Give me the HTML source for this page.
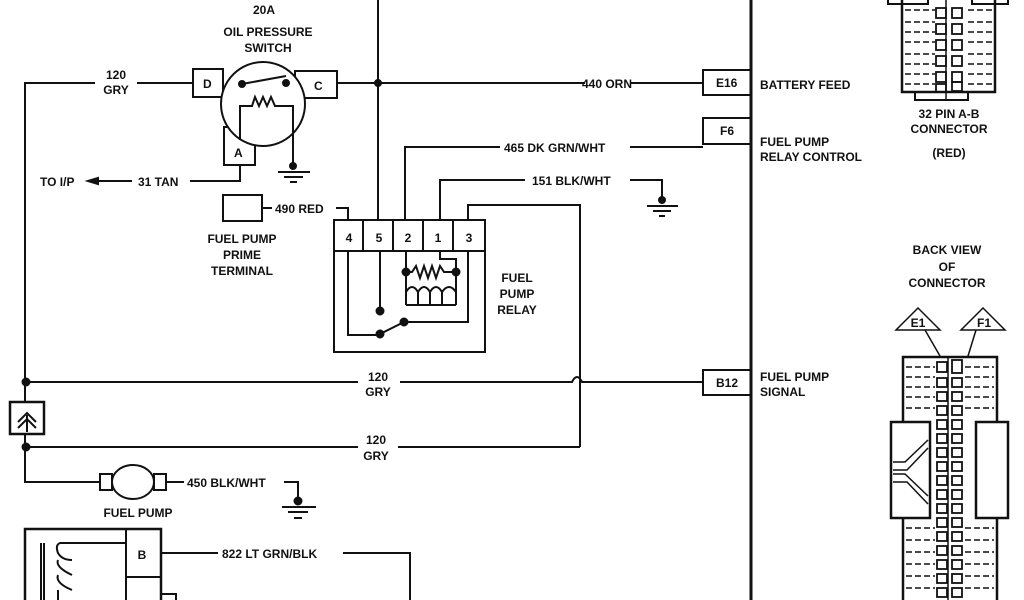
<!DOCTYPE html>
<html><head><style>
html,body{margin:0;padding:0;background:#fff;width:1024px;height:600px;overflow:hidden}
svg text{font-family:"Liberation Sans",Arial,sans-serif;font-weight:bold;font-size:12px;fill:#111}
</style></head><body>
<svg width="1024" height="600" viewBox="0 0 1024 600" xmlns="http://www.w3.org/2000/svg" stroke="#111" fill="none" stroke-width="2">
<line x1="751" y1="0" x2="751" y2="600" stroke-width="3"/>
<rect x="703" y="70" width="48" height="25"/><text x="716" y="87" stroke="none" font-size="11">E16</text>
<rect x="703" y="118" width="48" height="26"/><text x="720" y="135" stroke="none" font-size="11">F6</text>
<rect x="703" y="370" width="48" height="25"/><text x="716" y="387" stroke="none" font-size="11">B12</text>
<text x="760" y="89" stroke="none">BATTERY FEED</text>
<text x="760" y="146" stroke="none">FUEL PUMP</text>
<text x="760" y="161" stroke="none">RELAY CONTROL</text>
<text x="760" y="381" stroke="none">FUEL PUMP</text>
<text x="760" y="396" stroke="none">SIGNAL</text>

<line x1="378" y1="0" x2="378" y2="220"/>
<circle cx="378" cy="83" r="3" fill="#111"/>
<polyline points="95,83 25,83 25,482 100,482"/>
<line x1="137" y1="83" x2="193" y2="83"/>
<text x="116" y="79" stroke="none" text-anchor="middle">120</text>
<text x="116" y="94" stroke="none" text-anchor="middle">GRY</text>
<text x="264" y="14" stroke="none" text-anchor="middle">20A</text>
<text x="268" y="36" stroke="none" text-anchor="middle">OIL PRESSURE</text>
<text x="268" y="52" stroke="none" text-anchor="middle">SWITCH</text>
<rect x="193" y="69" width="30" height="28" fill="#fff"/><text x="203" y="88" stroke="none">D</text>
<rect x="295" y="71" width="42" height="27" fill="#fff"/><text x="314" y="90" stroke="none">C</text>
<rect x="224" y="127" width="31" height="38" fill="#fff"/><text x="234" y="157" stroke="none">A</text>
<circle cx="263" cy="104" r="42" fill="#fff"/>
<line x1="242" y1="84" x2="286" y2="76"/>
<circle cx="242" cy="84" r="3" fill="#111"/><circle cx="286" cy="83" r="3" fill="#111"/>
<polyline points="240,140 240,106 252,106 255,97 259,106 263,97 267,106 271,97 275,106 281,106 293,106 293,165"/>
<line x1="337" y1="83" x2="703" y2="83"/>
<rect x="585" y="76" width="45" height="14" fill="#fff" stroke="none"/>
<text x="607" y="88" stroke="none" text-anchor="middle">440 ORN</text>
<circle cx="293" cy="166" r="3" fill="#111"/>
<line x1="278" y1="172" x2="310" y2="172"/><line x1="284" y1="177" x2="303" y2="177"/><line x1="290" y1="182" x2="297" y2="182"/>
<polyline points="240,165 240,181 190,181"/>
<text x="138" y="186" stroke="none">31 TAN</text>
<line x1="98" y1="181" x2="132" y2="181"/>
<polygon points="88,181 98,178 98,184" fill="#111"/>
<text x="40" y="186" stroke="none">TO I/P</text>
<rect x="223" y="195" width="39" height="26"/>
<line x1="262" y1="208" x2="272" y2="208"/>
<text x="275" y="213" stroke="none">490 RED</text>
<polyline points="336,208 348,208 348,220"/>
<text x="242" y="243" stroke="none" text-anchor="middle">FUEL PUMP</text>
<text x="242" y="259" stroke="none" text-anchor="middle">PRIME</text>
<text x="242" y="275" stroke="none" text-anchor="middle">TERMINAL</text>
<rect x="334" y="220" width="151" height="132"/>
<line x1="334" y1="251" x2="485" y2="251"/>
<line x1="363" y1="220" x2="363" y2="251"/><line x1="393" y1="220" x2="393" y2="251"/><line x1="423" y1="220" x2="423" y2="251"/><line x1="453" y1="220" x2="453" y2="251"/>
<text x="349" y="242" stroke="none" text-anchor="middle">4</text>
<text x="379" y="242" stroke="none" text-anchor="middle">5</text>
<text x="408" y="242" stroke="none" text-anchor="middle">2</text>
<text x="438" y="242" stroke="none" text-anchor="middle">1</text>
<text x="469" y="242" stroke="none" text-anchor="middle">3</text>
<polyline points="348,251 348,335 376,335"/>
<line x1="380" y1="251" x2="380" y2="310"/><circle cx="380" cy="311" r="3.5" fill="#111"/>
<line x1="380" y1="334" x2="404" y2="322"/>
<circle cx="380" cy="334" r="3.5" fill="#111"/><circle cx="404" cy="322" r="3.5" fill="#111"/>
<polyline points="404,322 468,322 468,251"/>
<polyline points="406,251 406,272 406,305"/>
<circle cx="406" cy="272" r="3.5" fill="#111"/><circle cx="456" cy="272" r="3.5" fill="#111"/>
<polyline points="406,272 412,272 416,266 420,278 424,266 428,278 432,266 436,278 440,266 444,272 456,272"/>
<polyline points="440,251 440,259 456,259 456,305"/>
<path d="M406,305 L406,292 Q412,282 418,292 L418,305 M418,292 Q424,282 430,292 L430,305 M430,292 Q436,282 442,292 L442,305 M442,292 Q449,282 456,292"/>
<line x1="406" y1="305" x2="456" y2="305"/>
<text x="517" y="282" stroke="none" text-anchor="middle">FUEL</text>
<text x="517" y="298" stroke="none" text-anchor="middle">PUMP</text>
<text x="517" y="314" stroke="none" text-anchor="middle">RELAY</text>
<polyline points="405,220 405,147 500,147"/>
<text x="504" y="152" stroke="none">465 DK GRN/WHT</text>
<line x1="630" y1="147" x2="703" y2="147"/>
<polyline points="440,220 440,180 525,180"/>
<text x="532" y="185" stroke="none">151 BLK/WHT</text>
<polyline points="630,180 662,180 662,200"/>
<circle cx="662" cy="200" r="3" fill="#111"/>
<line x1="647" y1="206" x2="678" y2="206"/><line x1="653" y1="211" x2="671" y2="211"/><line x1="659" y1="216" x2="665" y2="216"/>
<polyline points="468,220 468,205 580,205 580,447"/>
<path d="M25,382 L358,382 M400,382 L572,382 Q577,372 582,382 L703,382"/>
<circle cx="26" cy="382" r="3.5" fill="#111"/>
<text x="378" y="381" stroke="none" text-anchor="middle">120</text>
<text x="378" y="396" stroke="none" text-anchor="middle">GRY</text>
<path d="M25,447 L358,447 M398,447 L580,447"/>
<circle cx="26" cy="447" r="3.5" fill="#111"/>
<text x="376" y="444" stroke="none" text-anchor="middle">120</text>
<text x="376" y="460" stroke="none" text-anchor="middle">GRY</text>
<rect x="10" y="402" width="34" height="32" fill="#fff" stroke-width="2.5"/>
<path d="M18,422 L27,413 L36,422 M18,428 L27,419 L36,428 M27,415 L27,432"/>
<rect x="100" y="474" width="12" height="16"/><rect x="154" y="474" width="12" height="16"/>
<ellipse cx="133" cy="482" rx="21" ry="17" fill="#fff"/>
<line x1="166" y1="482" x2="184" y2="482"/>
<text x="187" y="487" stroke="none">450 BLK/WHT</text>
<polyline points="284,482 298,482 298,500"/>
<circle cx="298" cy="501" r="3.5" fill="#111"/>
<line x1="282" y1="507" x2="316" y2="507"/><line x1="288" y1="512" x2="308" y2="512"/><line x1="294" y1="518" x2="302" y2="518"/>
<text x="138" y="517" stroke="none" text-anchor="middle">FUEL PUMP</text>
<polyline points="25,600 25,529 161,529 161,600" stroke-width="2.5"/>
<line x1="126" y1="529" x2="126" y2="600"/>
<line x1="126" y1="577" x2="161" y2="577"/>
<text x="142" y="559" stroke="none" text-anchor="middle">B</text>
<line x1="41" y1="543" x2="41" y2="600"/><line x1="44" y1="543" x2="44" y2="600"/>
<path d="M125,543 L60,543 Q55,545 58,553 Q62,560 72,560 M58,560 Q55,567 72,575 M58,575 Q55,583 72,590 M58,590 L58,600"/>
<line x1="161" y1="553" x2="218" y2="553"/>
<text x="222" y="558" stroke="none">822 LT GRN/BLK</text>
<polyline points="343,553 410,553 410,600"/>
<rect x="161" y="594" width="15" height="10"/>
<path d="M902,0 L902,92 L995,92 L995,0" stroke-width="2.5"/>
<rect x="888" y="-4" width="40" height="8"/><rect x="972" y="-4" width="36" height="8"/>
<line x1="946" y1="0" x2="946" y2="100" stroke-width="1.5"/>
<path d="M915,92 L915,100 L968,100 L968,92"/>
<g stroke-width="1.5" stroke-dasharray="6,3">
<line x1="905" y1="10" x2="935" y2="10"/><line x1="905" y1="22" x2="935" y2="22"/><line x1="905" y1="32" x2="935" y2="32"/><line x1="905" y1="42" x2="935" y2="42"/><line x1="905" y1="54" x2="935" y2="54"/><line x1="905" y1="64" x2="935" y2="64"/><line x1="905" y1="74" x2="935" y2="74"/><line x1="905" y1="84" x2="935" y2="84"/>
<line x1="968" y1="10" x2="993" y2="10"/><line x1="968" y1="22" x2="993" y2="22"/><line x1="968" y1="32" x2="993" y2="32"/><line x1="968" y1="42" x2="993" y2="42"/><line x1="968" y1="54" x2="993" y2="54"/><line x1="968" y1="64" x2="993" y2="64"/><line x1="968" y1="74" x2="993" y2="74"/><line x1="968" y1="84" x2="993" y2="84"/>
</g>
<g stroke-width="1.8">
<rect x="936" y="8" width="10" height="10"/><rect x="952" y="8" width="10" height="10"/>
<rect x="936" y="24" width="10" height="10"/><rect x="952" y="24" width="10" height="10"/>
<rect x="936" y="40" width="10" height="10"/><rect x="952" y="40" width="10" height="10"/>
<rect x="936" y="56" width="10" height="10"/><rect x="952" y="56" width="10" height="10"/>
<rect x="936" y="72" width="10" height="10"/><rect x="952" y="72" width="10" height="10"/>
<rect x="936" y="84" width="10" height="8"/><rect x="952" y="82" width="10" height="9"/>
</g>
<text x="949" y="118" stroke="none" text-anchor="middle">32 PIN A-B</text>
<text x="949" y="133" stroke="none" text-anchor="middle">CONNECTOR</text>
<text x="949" y="157" stroke="none" text-anchor="middle">(RED)</text>
<text x="947" y="254" stroke="none" text-anchor="middle">BACK VIEW</text>
<text x="947" y="271" stroke="none" text-anchor="middle">OF</text>
<text x="947" y="287" stroke="none" text-anchor="middle">CONNECTOR</text>
<polygon points="918,308 896,330 940,330" stroke-width="1.5"/>
<text x="918" y="327" stroke="none" text-anchor="middle" font-size="11">E1</text>
<polygon points="983,308 961,330 1005,330" stroke-width="1.5"/>
<text x="984" y="327" stroke="none" text-anchor="middle" font-size="11">F1</text>
<line x1="925" y1="330" x2="940" y2="356" stroke-width="1.5"/>
<line x1="976" y1="330" x2="968" y2="356" stroke-width="1.5"/>
<path d="M903,600 L903,357 L997,357 L997,600" stroke-width="2.5"/>
<rect x="891" y="422" width="39" height="96" fill="#fff" stroke-width="2.5"/>
<rect x="976" y="422" width="32" height="96" fill="#fff" stroke-width="2.5"/>
<path d="M893,462 L905,462 L928,440 M893,470 L907,470 L928,448 M893,474 L905,474 L928,496 M893,482 L907,482 L928,504" stroke-width="1.5"/>
<line x1="948" y1="357" x2="948" y2="600" stroke-width="1.5"/>
<g stroke-width="1.5" stroke-dasharray="6,3">
<line x1="906" y1="367" x2="935" y2="367"/><line x1="906" y1="377" x2="935" y2="377"/><line x1="906" y1="387" x2="935" y2="387"/><line x1="906" y1="397" x2="935" y2="397"/><line x1="906" y1="408" x2="935" y2="408"/>
<line x1="965" y1="367" x2="994" y2="367"/><line x1="965" y1="377" x2="994" y2="377"/><line x1="965" y1="387" x2="994" y2="387"/><line x1="965" y1="397" x2="994" y2="397"/><line x1="965" y1="408" x2="994" y2="408"/>
<line x1="906" y1="528" x2="935" y2="528"/><line x1="906" y1="540" x2="935" y2="540"/><line x1="906" y1="552" x2="935" y2="552"/><line x1="906" y1="564" x2="935" y2="564"/><line x1="906" y1="576" x2="935" y2="576"/><line x1="906" y1="588" x2="935" y2="588"/>
<line x1="965" y1="528" x2="994" y2="528"/><line x1="965" y1="540" x2="994" y2="540"/><line x1="965" y1="552" x2="994" y2="552"/><line x1="965" y1="564" x2="994" y2="564"/><line x1="965" y1="576" x2="994" y2="576"/><line x1="965" y1="588" x2="994" y2="588"/>
</g>
<g stroke-width="1.8">
<rect x="937" y="362" width="10" height="10"/><rect x="952" y="360" width="10" height="13"/>
<rect x="937" y="378" width="10" height="9"/><rect x="952" y="378" width="10" height="9"/>
<rect x="937" y="392" width="10" height="9"/><rect x="952" y="392" width="10" height="9"/>
<rect x="937" y="406" width="10" height="9"/><rect x="952" y="406" width="10" height="9"/>
<rect x="937" y="420" width="10" height="9"/><rect x="952" y="420" width="10" height="9"/>
<rect x="937" y="434" width="10" height="9"/><rect x="952" y="434" width="10" height="9"/>
<rect x="937" y="448" width="10" height="9"/><rect x="952" y="448" width="10" height="9"/>
<rect x="937" y="462" width="10" height="9"/><rect x="952" y="462" width="10" height="9"/>
<rect x="937" y="476" width="10" height="9"/><rect x="952" y="476" width="10" height="9"/>
<rect x="937" y="490" width="10" height="9"/><rect x="952" y="490" width="10" height="9"/>
<rect x="937" y="504" width="10" height="9"/><rect x="952" y="504" width="10" height="9"/>
<rect x="937" y="518" width="10" height="9"/><rect x="952" y="518" width="10" height="9"/>
<rect x="937" y="532" width="10" height="9"/><rect x="952" y="532" width="10" height="9"/>
<rect x="937" y="546" width="10" height="9"/><rect x="952" y="546" width="10" height="9"/>
<rect x="937" y="560" width="10" height="9"/><rect x="952" y="560" width="10" height="9"/>
<rect x="937" y="574" width="10" height="9"/><rect x="952" y="574" width="10" height="9"/>
<rect x="937" y="588" width="10" height="9"/><rect x="952" y="588" width="10" height="9"/>
</g>
</svg>
</body></html>
